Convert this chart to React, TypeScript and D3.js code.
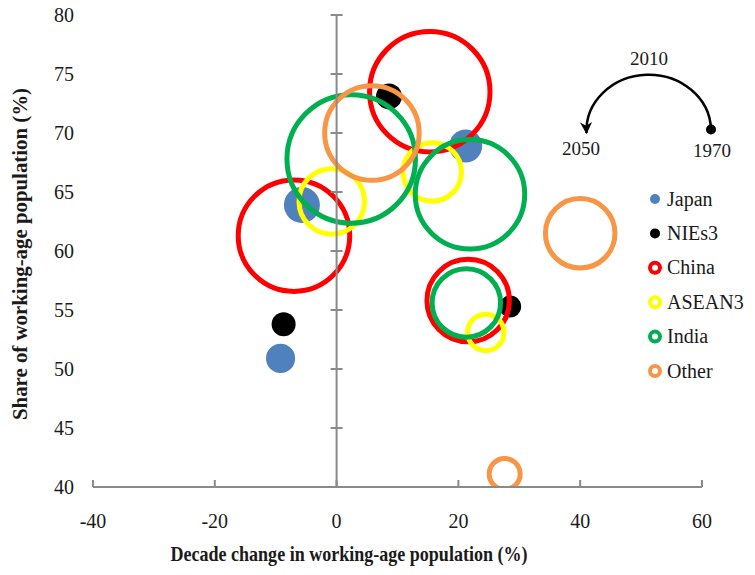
import React, { useEffect, useRef } from "react";
import * as d3 from "d3";

// x: decade change in working-age population (%), y: share of working-age population (%),
// pop: working-age population (millions) -> bubble area
const japan = [
    { x: 21.2, y: 68.9, pop: 68 },
    { x: -5.7, y: 63.9, pop: 81 },
    { x: -9.2, y: 50.9, pop: 53 },
];
const nies3 = [
    { x: 28.5, y: 55.3, pop: 30 },
    { x: 8.6, y: 73.1, pop: 42 },
    { x: -8.7, y: 53.8, pop: 36 },
];
const china = [
    { x: 21.6, y: 55.8, pop: 425 },
    { x: 15.3, y: 73.5, pop: 907 },
    { x: -7.0, y: 61.3, pop: 777 },
];
const asean3 = [
    { x: 24.5, y: 53.1, pop: 83 },
    { x: 15.7, y: 66.7, pop: 214 },
    { x: -0.8, y: 64.2, pop: 268 },
];
const india = [
    { x: 21.3, y: 55.6, pop: 293 },
    { x: 21.9, y: 64.8, pop: 749 },
    { x: 2.4, y: 67.8, pop: 1032 },
];
const other = [
    { x: 27.6, y: 41.1, pop: 60 },
    { x: 5.8, y: 70.0, pop: 558 },
    { x: 40.0, y: 61.5, pop: 302 },
];

const seriesNames = ["Japan", "NIEs3", "China", "ASEAN3", "India", "Other"];
const seriesColors = ["#4f81bd", "#000000", "#ff0000", "#ffff00", "#00b050", "#f79646"];
const seriesFilled = [true, true, false, false, false, false];
const seriesData = [japan, nies3, china, asean3, india, other];

const xTicks = [-40, -20, 0, 20, 40, 60];
const yTicks = [40, 45, 50, 55, 60, 65, 70, 75, 80];
const years = ["1970", "2010", "2050"];

const App = () => {
    const chart = useRef<SVGSVGElement>(null);
    const width = 755;
    const height = 575;

    useEffect(() => {
        const svg = d3.select(chart.current);
        svg.selectAll("*").remove();

        const font = "'Liberation Serif', 'Times New Roman', serif";
        const axisColor = "#8a8a8a";
        const textColor = "#1a1a1a";

        const xScale = d3.scaleLinear().domain([-40, 60]).range([93, 702]);
        const yScale = d3.scaleLinear().domain([40, 80]).range([487, 15]);
        const rScale = d3.scaleSqrt().domain([0, 1100]).range([0, 2 * Math.sqrt(1100)]);

        svg.append("defs")
            .append("clipPath")
            .attr("id", "plot-clip")
            .append("rect")
            .attr("x", 93)
            .attr("y", 15)
            .attr("width", 609)
            .attr("height", 472);

        // bubbles
        const plot = svg.append("g").attr("clip-path", "url(#plot-clip)");
        seriesData.forEach((data, i) => {
            plot.append("g")
                .selectAll("circle")
                .data(data)
                .join("circle")
                .attr("cx", (d) => xScale(d.x))
                .attr("cy", (d) => yScale(d.y))
                .attr("r", (d) => rScale(d.pop))
                .attr("fill", seriesFilled[i] ? seriesColors[i] : "none")
                .attr("stroke", seriesFilled[i] ? "none" : seriesColors[i])
                .attr("stroke-width", 5);
        });

        // x axis
        const xAxis = svg.append("g").attr("transform", `translate(0,${yScale(40)})`);
        xAxis.append("line")
            .attr("x1", xScale(-40))
            .attr("x2", xScale(60))
            .attr("stroke", axisColor)
            .attr("stroke-width", 2);
        xAxis.selectAll(".tick")
            .data(xTicks)
            .join("line")
            .attr("x1", (d) => xScale(d))
            .attr("x2", (d) => xScale(d))
            .attr("y1", 0)
            .attr("y2", -7)
            .attr("stroke", axisColor)
            .attr("stroke-width", 2);
        xAxis.selectAll("text")
            .data(xTicks)
            .join("text")
            .attr("x", (d) => xScale(d))
            .attr("y", 41)
            .attr("text-anchor", "middle")
            .attr("font-family", font)
            .attr("font-size", 20)
            .attr("fill", textColor)
            .text((d) => String(d));

        // y axis at x = 0, labels at the left
        const yAxis = svg.append("g").attr("transform", `translate(${xScale(0)},0)`);
        yAxis.append("line")
            .attr("y1", yScale(40))
            .attr("y2", yScale(80))
            .attr("stroke", axisColor)
            .attr("stroke-width", 2);
        yAxis.selectAll(".tick")
            .data(yTicks)
            .join("line")
            .attr("x1", -6)
            .attr("x2", 6)
            .attr("y1", (d) => yScale(d))
            .attr("y2", (d) => yScale(d))
            .attr("stroke", axisColor)
            .attr("stroke-width", 2);
        svg.append("g")
            .selectAll("text")
            .data(yTicks)
            .join("text")
            .attr("x", 74)
            .attr("y", (d) => yScale(d))
            .attr("dy", "0.35em")
            .attr("text-anchor", "end")
            .attr("font-family", font)
            .attr("font-size", 20)
            .attr("fill", textColor)
            .text((d) => String(d));

        // axis titles
        svg.append("text")
            .attr("x", 349)
            .attr("y", 561)
            .attr("text-anchor", "middle")
            .attr("font-family", font)
            .attr("font-weight", "bold")
            .attr("font-size", 21)
            .attr("textLength", 357)
            .attr("lengthAdjust", "spacingAndGlyphs")
            .attr("fill", textColor)
            .text("Decade change in working-age population (%)");
        svg.append("text")
            .attr("transform", "translate(27,254) rotate(-90)")
            .attr("text-anchor", "middle")
            .attr("font-family", font)
            .attr("font-weight", "bold")
            .attr("font-size", 21)
            .attr("textLength", 332)
            .attr("lengthAdjust", "spacingAndGlyphs")
            .attr("fill", textColor)
            .text("Share of working-age population (%)");

        // legend
        const legend = svg.append("g").attr("transform", "translate(655,199)");
        const item = legend.selectAll("g")
            .data(seriesNames)
            .join("g")
            .attr("transform", (d, i) => `translate(0,${i * 34.4})`);
        item.append("circle")
            .attr("r", (d, i) => (seriesFilled[i] ? 5 : 5))
            .attr("fill", (d, i) => (seriesFilled[i] ? seriesColors[i] : "none"))
            .attr("stroke", (d, i) => (seriesFilled[i] ? "none" : seriesColors[i]))
            .attr("stroke-width", 4);
        item.append("text")
            .attr("x", 12)
            .attr("dy", "0.33em")
            .attr("font-family", font)
            .attr("font-size", 20)
            .attr("fill", textColor)
            .text((d) => d);

        // time direction annotation
        svg.select("defs")
            .append("marker")
            .attr("id", "arrow")
            .attr("markerUnits", "userSpaceOnUse")
            .attr("viewBox", "0 0 10 10")
            .attr("refX", 9)
            .attr("refY", 5)
            .attr("markerWidth", 12)
            .attr("markerHeight", 12)
            .attr("orient", "auto")
            .append("path")
            .attr("d", "M0,0 L10,5 L0,10 L3,5 Z")
            .attr("fill", "#000");
        svg.append("path")
            .attr("d", "M711,129 A62,56 0 0 0 586.5,133")
            .attr("fill", "none")
            .attr("stroke", "#000")
            .attr("stroke-width", 2.5)
            .attr("marker-end", "url(#arrow)");
        svg.append("circle")
            .attr("cx", 711)
            .attr("cy", 129.5)
            .attr("r", 5)
            .attr("fill", "#000");
        const yearPos = [
            [712, 157],
            [649, 65],
            [581, 155],
        ];
        svg.append("g")
            .selectAll("text")
            .data(years)
            .join("text")
            .attr("x", (d, i) => yearPos[i][0])
            .attr("y", (d, i) => yearPos[i][1])
            .attr("text-anchor", "middle")
            .attr("font-family", font)
            .attr("font-size", 19)
            .attr("fill", textColor)
            .text((d) => d);
    }, []);

    return (
        <div id="chartArea">
            <svg
                ref={chart}
                width={width}
                height={height}
                style={{ position: "absolute", left: 0, top: 0, background: "#fff" }}
            ></svg>
        </div>
    );
};

export default App;
